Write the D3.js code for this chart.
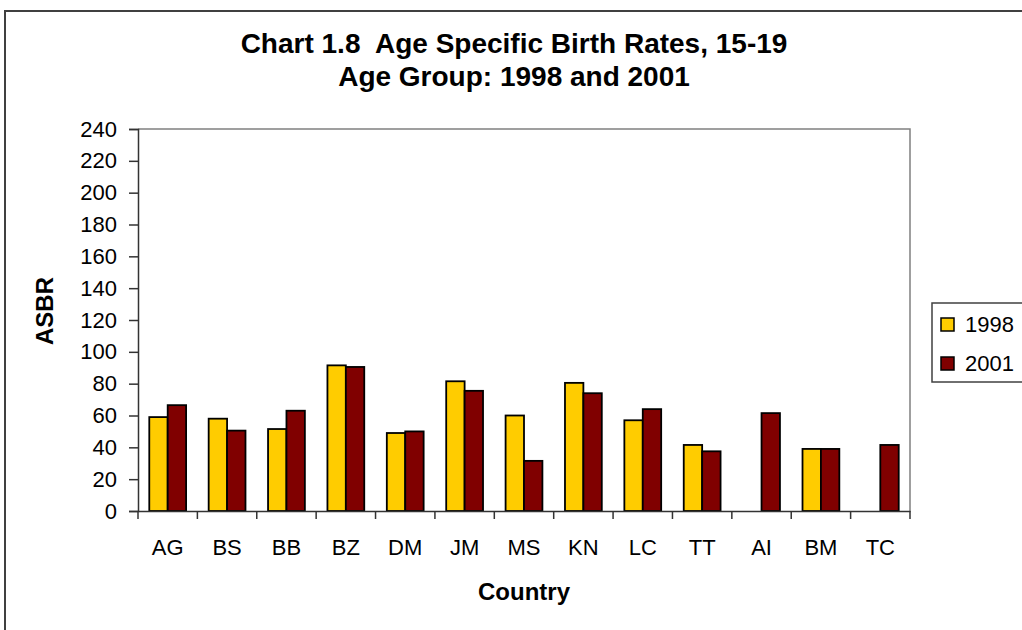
<!DOCTYPE html>
<html lang="en">
<head>
    <meta charset="UTF-8">
    <title>Chart 1.8 Age Specific Birth Rates, 15-19</title>
    <script src="https://d3js.org/d3.v7.min.js"></script>
    <style>
        body {
            margin: 0;
            font-family: "Liberation Sans", Arial, sans-serif;
            background: #fff;
        }
    </style>
</head>
<body>
    <div id="chart"></div>
    <script>
        const countries = ["AG", "BS", "BB", "BZ", "DM", "JM", "MS", "KN", "LC", "TT", "AI", "BM", "TC"];
        const years = ["1998", "2001"];
        const rates1998 = [59, 58, 51.5, 91.5, 49, 81.5, 60, 80.5, 57, 41.5, null, 39, null];
        const rates2001 = [66.5, 50.5, 63, 90.5, 50, 75.5, 31.5, 74, 64, 37.5, 61.5, 39, 41.5];
        const yTicks = d3.range(0, 241, 20);
        const colors = ["#FFCC00", "#800000"];

        const W = 1022, H = 630;
        const plot = { left: 138, right: 910, top: 129, bottom: 511 };
        const fontFamily = "Liberation Sans, Arial, sans-serif";

        const svg = d3.select("#chart").append("svg")
            .attr("width", W)
            .attr("height", H);

        // outer chart frame (runs off the right and bottom edges)
        svg.append("rect")
            .attr("x", 5).attr("y", 11)
            .attr("width", 1040).attr("height", 660)
            .attr("fill", "#fff")
            .attr("stroke", "#404040")
            .attr("stroke-width", 2);

        // title
        const title = svg.append("text")
            .attr("text-anchor", "middle")
            .attr("font-weight", "bold")
            .attr("font-size", 28)
            .style("white-space", "pre");
        title.append("tspan").attr("x", 514).attr("y", 53).text("Chart 1.8  Age Specific Birth Rates, 15-19");
        title.append("tspan").attr("x", 514).attr("y", 86).text("Age Group: 1998 and 2001");

        const x0 = d3.scaleBand()
            .domain(countries)
            .range([plot.left, plot.right]);

        const x1 = d3.scaleBand()
            .domain(years)
            .range([x0.bandwidth() * 0.19, x0.bandwidth() * 0.81]);

        const y = d3.scaleLinear()
            .domain([0, 240])
            .range([plot.bottom, plot.top]);

        // plot area border (top and right)
        svg.append("path")
            .attr("d", `M${plot.left},${plot.top}H${plot.right}V${plot.bottom}`)
            .attr("fill", "none")
            .attr("stroke", "#808080")
            .attr("stroke-width", 1.5);

        const rows = countries.map((c, i) => ({
            country: c,
            values: [rates1998[i], rates2001[i]]
        }));

        const groups = svg.append("g").selectAll("g")
            .data(rows)
            .join("g")
            .attr("transform", d => `translate(${x0(d.country)},0)`);

        groups.selectAll("rect")
            .data(d => d.values.map((v, j) => ({ year: years[j], value: v, j })).filter(e => e.value != null))
            .join("rect")
            .attr("x", d => x1(d.year))
            .attr("y", d => y(d.value))
            .attr("width", x1.bandwidth())
            .attr("height", d => y(0) - y(d.value))
            .attr("fill", d => colors[d.j])
            .attr("stroke", "#000")
            .attr("stroke-width", 1.8);

        // y axis
        const yAxis = svg.append("g")
            .attr("transform", `translate(${plot.left},0)`)
            .call(d3.axisLeft(y).tickValues(yTicks).tickSize(9).tickPadding(12));
        yAxis.selectAll("text").attr("font-size", 22).attr("font-family", fontFamily).attr("fill", "#000");
        yAxis.selectAll("line, path").attr("stroke", "#333").attr("stroke-width", 1.5);

        // x axis with ticks between categories
        const xAxis = svg.append("g")
            .attr("transform", `translate(0,${plot.bottom})`)
            .call(d3.axisBottom(x0).tickSize(0).tickPadding(28));
        xAxis.selectAll("text").attr("font-size", 22).attr("font-family", fontFamily).attr("fill", "#000");
        xAxis.select(".domain").attr("stroke", "#333").attr("stroke-width", 1.5);
        xAxis.selectAll(".sep")
            .data(countries.concat(["end"]))
            .join("line")
            .attr("class", "sep")
            .attr("x1", (d, i) => plot.left + i * x0.step())
            .attr("x2", (d, i) => plot.left + i * x0.step())
            .attr("y1", 0).attr("y2", 8)
            .attr("stroke", "#333").attr("stroke-width", 1.5);

        // axis titles
        svg.append("text")
            .attr("transform", "translate(53,311) rotate(-90)")
            .attr("text-anchor", "middle")
            .attr("font-weight", "bold")
            .attr("font-size", 24)
            .text("ASBR");

        svg.append("text")
            .attr("x", 524).attr("y", 600)
            .attr("text-anchor", "middle")
            .attr("font-weight", "bold")
            .attr("font-size", 24)
            .text("Country");

        // legend
        svg.append("rect")
            .attr("x", 932).attr("y", 303)
            .attr("width", 120).attr("height", 79)
            .attr("fill", "#fff")
            .attr("stroke", "#404040")
            .attr("stroke-width", 1.5);

        const legend = svg.append("g").selectAll("g")
            .data(years)
            .join("g")
            .attr("transform", (d, i) => `translate(941,${318 + i * 39})`);
        legend.append("rect")
            .attr("width", 13).attr("height", 13)
            .attr("fill", (d, i) => colors[i])
            .attr("stroke", "#000").attr("stroke-width", 1.5);
        legend.append("text")
            .attr("x", 24).attr("y", 14)
            .attr("font-size", 22)
            .text(d => d);
    </script>
</body>
</html>
